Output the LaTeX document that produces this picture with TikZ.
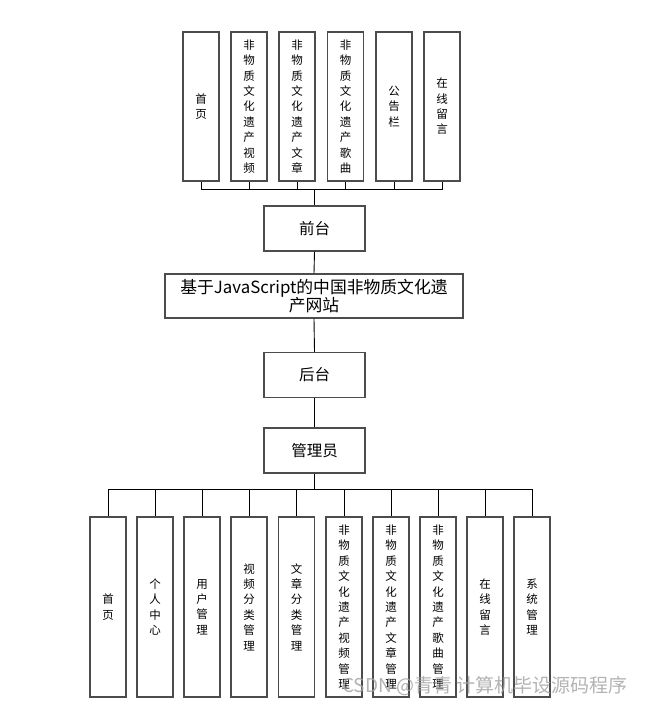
\documentclass[tikz,border=0pt]{standalone}
\usepackage{fontspec}
\setmainfont{Noto Sans CJK SC}
\newfontfamily\cjk{Noto Sans CJK SC}
\begin{document}
\begin{tikzpicture}[x=1pt,y=-1pt,
  vbox/.style={draw=black!70,line width=1.2pt,fill=white,minimum width=36pt,inner sep=0pt,align=center,font=\cjk\fontsize{11.5}{15.4}\selectfont},
  tbox/.style={vbox,minimum height=149pt},
  bbox/.style={vbox,minimum height=180pt},
  hbox/.style={draw=black!70,line width=1.2pt,fill=white,minimum width=101pt,minimum height=45pt,inner sep=0pt,align=center,font=\cjk\fontsize{15.5}{17}\selectfont},
  conn/.style={draw=black,line width=0.9pt}]
\useasboundingbox (0,0) rectangle (652,705);
% top row
\node[tbox] (t1) at (201,106.5) {首\\页};
\node[tbox] (t2) at (249,106.5) {非\\物\\质\\文\\化\\遗\\产\\视\\频};
\node[tbox] (t3) at (297,106.5) {非\\物\\质\\文\\化\\遗\\产\\文\\章};
\node[tbox] (t4) at (345.5,106.5) {非\\物\\质\\文\\化\\遗\\产\\歌\\曲};
\node[tbox] (t5) at (394,106.5) {公\\告\\栏};
\node[tbox] (t6) at (442,106.5) {在\\线\\留\\言};
% middle column
\node[hbox] (qt) at (314.5,228.5) {前台};
\node[hbox,minimum width=298pt,minimum height=44pt,font=\cjk\fontsize{16.8}{18.5}\selectfont] (main) at (314,296) {基于JavaScript的中国非物质文化遗\\产网站};
\node[hbox] (ht) at (314.5,375) {后台};
\node[hbox] (gly) at (314.5,450.5) {管理员};
% bottom row
\node[bbox] (b1) at (108,607) {首\\页};
\node[bbox] (b2) at (155,607) {个\\人\\中\\心};
\node[bbox] (b3) at (202,607) {用\\户\\管\\理};
\node[bbox] (b4) at (249,607) {视\\频\\分\\类\\管\\理};
\node[bbox] (b5) at (296.5,607) {文\\章\\分\\类\\管\\理};
\node[bbox] (b6) at (344,607) {非\\物\\质\\文\\化\\遗\\产\\视\\频\\管\\理};
\node[bbox] (b7) at (391,607) {非\\物\\质\\文\\化\\遗\\产\\文\\章\\管\\理};
\node[bbox] (b8) at (438,607) {非\\物\\质\\文\\化\\遗\\产\\歌\\曲\\管\\理};
\node[bbox] (b9) at (485,607) {在\\线\\留\\言};
\node[bbox] (b10) at (532,607) {系\\统\\管\\理};
% connectors top
\coordinate (tb) at (314.5,189);
\foreach \i in {1,...,6} \draw[conn] (t\i.south) |- (tb);
\draw[conn] (tb) -- (qt.north);
\draw[conn] (qt.south) -- (main.north);
\draw[conn] (main.south) -- (ht.north);
\draw[conn] (ht.south) -- (gly.north);
% connectors bottom
\coordinate (bb) at (314.5,489);
\draw[conn] (gly.south) -- (bb);
\foreach \i in {1,...,10} \draw[conn] (bb) -| (b\i.north);
% watermark
\node[text=gray!70,opacity=0.85,font=\cjk\fontsize{19}{21}\selectfont,inner sep=0pt] (wm) at (485,686) {CSDN @青青\ 计算机毕设源码程序};
\end{tikzpicture}
\end{document}
